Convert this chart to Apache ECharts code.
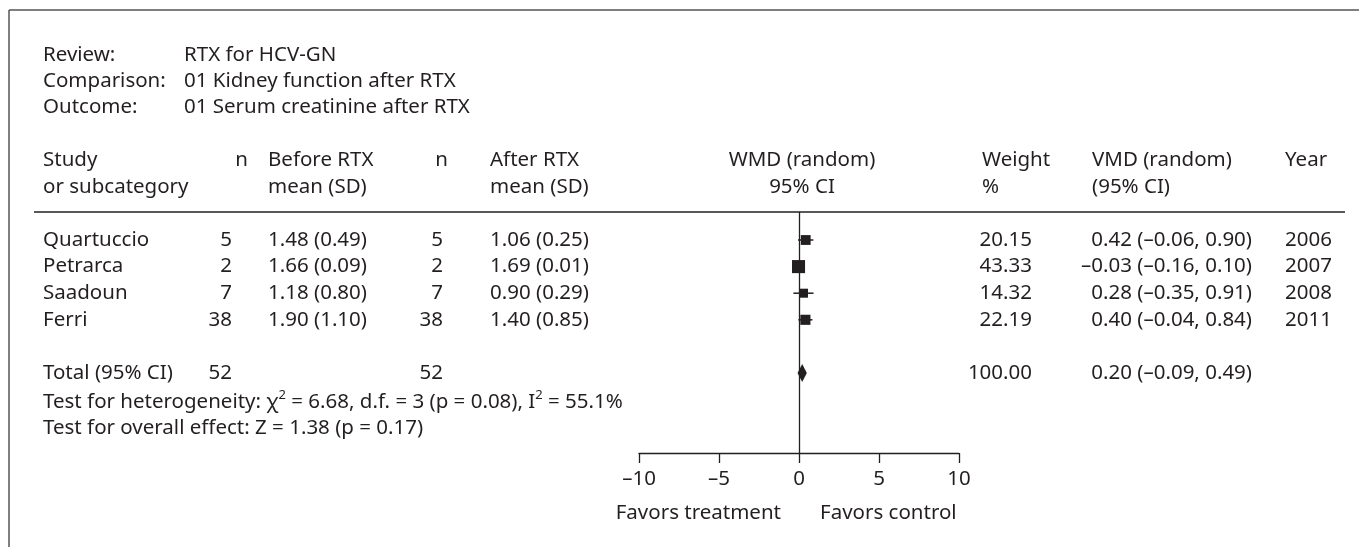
<!DOCTYPE html>
<html><head><meta charset="utf-8">
<script src="https://cdn.jsdelivr.net/npm/echarts@6/dist/echarts.min.js"></script>
<style>html,body{margin:0;padding:0;background:#fff}#c{width:1359px;height:547px}</style>
</head><body><div id="c"></div>
<script>
// ---- data ----
const studies = ['Quartuccio', 'Petrarca', 'Saadoun', 'Ferri'];
const nBefore = [5, 2, 7, 38];
const beforeMean = [1.48, 1.66, 1.18, 1.90];
const beforeSD = [0.49, 0.09, 0.80, 1.10];
const nAfter = [5, 2, 7, 38];
const afterMean = [1.06, 1.69, 0.90, 1.40];
const afterSD = [0.25, 0.01, 0.29, 0.85];
const weights = [20.15, 43.33, 14.32, 22.19];
const wmd = [0.42, -0.03, 0.28, 0.40];
const ciLow = [-0.06, -0.16, -0.35, -0.04];
const ciHigh = [0.90, 0.10, 0.91, 0.84];
const years = [2006, 2007, 2008, 2011];
const totalN = [52, 52];
const totalWeight = 100.00;
const totalWmd = 0.20, totalLow = -0.09, totalHigh = 0.49;
const xTicks = [-10, -5, 0, 5, 10];
const headerLabels = ['Review:', 'Comparison:', 'Outcome:'];
const headerValues = ['RTX for HCV-GN', '01 Kidney function after RTX', '01 Serum creatinine after RTX'];

// ---- layout ----
const FONT = '"Noto Sans", sans-serif';
const FS = 20.5;
const INK = '#231f20';
const ROW0 = 240, ROWH = 26.6;
const rowY = i => ROW0 + ROWH * i;
const TOTAL_ROW = 5;
const GRID_TOP = 212, GRID_BOTTOM = 453;
const yMin = (GRID_TOP - ROW0) / ROWH, yMax = (GRID_BOTTOM - ROW0) / ROWH;
const fmt = v => v.toFixed(2).replace('-', '–');
const ci = (e, l, h) => fmt(e) + ' (' + fmt(l) + ', ' + fmt(h) + ')';

const g = [];
function txt(s, x, y, align) {
  g.push({type: 'text', silent: true, style: {text: s, x: x, y: y, fill: INK, fontSize: FS, fontFamily: FONT, align: align || 'left', verticalAlign: 'middle'}});
}
// frame
g.push({type: 'line', silent: true, shape: {x1: 9, y1: 10, x2: 1359, y2: 10}, style: {stroke: '#555', lineWidth: 1.5}});
g.push({type: 'line', silent: true, shape: {x1: 9, y1: 10, x2: 9, y2: 547}, style: {stroke: '#555', lineWidth: 1.5}});
// header
headerLabels.forEach((s, i) => { txt(s, 43, 55 + 26 * i); txt(headerValues[i], 184, 55 + 26 * i); });
const H1 = 160, H2 = 187;
const C_N1 = 232, C_B = 268, C_N2 = 443, C_A = 490;
txt('Study', 43, H1); txt('or subcategory', 43, H2);
txt('n', 248, H1, 'right');
txt('Before RTX', C_B, H1); txt('mean (SD)', C_B, H2);
txt('n', 448, H1, 'right');
txt('After RTX', C_A, H1); txt('mean (SD)', C_A, H2);
txt('WMD (random)', 802, H1, 'center'); txt('95% CI', 802, H2, 'center');
txt('Weight', 982, H1); txt('%', 982, H2);
txt('VMD (random)', 1092, H1); txt('(95% CI)', 1092, H2);
txt('Year', 1285, H1);
// separator
g.push({type: 'line', silent: true, shape: {x1: 34, y1: GRID_TOP, x2: 1345, y2: GRID_TOP}, style: {stroke: INK, lineWidth: 1.3}});
// study rows
studies.forEach((s, i) => {
  const y = rowY(i);
  txt(s, 43, y);
  txt(String(nBefore[i]), C_N1, y, 'right');
  txt(beforeMean[i].toFixed(2) + ' (' + beforeSD[i].toFixed(2) + ')', C_B, y);
  txt(String(nAfter[i]), C_N2, y, 'right');
  txt(afterMean[i].toFixed(2) + ' (' + afterSD[i].toFixed(2) + ')', C_A, y);
  txt(weights[i].toFixed(2), 1032, y, 'right');
  txt(ci(wmd[i], ciLow[i], ciHigh[i]), 1252, y, 'right');
  txt(String(years[i]), 1285, y);
});
const ty = rowY(TOTAL_ROW);
txt('Total (95% CI)', 43, ty);
txt(String(totalN[0]), C_N1, ty, 'right');
txt(String(totalN[1]), C_N2, ty, 'right');
txt(totalWeight.toFixed(2), 1032, ty, 'right');
txt(ci(totalWmd, totalLow, totalHigh), 1252, ty, 'right');
g.push({type: 'text', silent: true, style: {
  text: '{n|Test for heterogeneity: χ}{s|2}{n| = 6.68, d.f. = 3 (p = 0.08), I}{s|2}{n| = 55.1%}',
  x: 43, y: 402, verticalAlign: 'middle', fill: INK, fontFamily: FONT, fontSize: FS,
  rich: {n: {fontSize: FS, fontFamily: FONT, fill: INK, lineHeight: 26, verticalAlign: 'middle'},
         s: {fontSize: 13, fontFamily: FONT, fill: INK, lineHeight: 26, verticalAlign: 'top'}}
}});
txt('Test for overall effect: Z = 1.38 (p = 0.17)', 43, 428);
txt('Favors treatment', 781, 513, 'right');
txt('Favors control', 820, 513, 'left');

const studyData = studies.map((s, i) => [ciLow[i], ciHigh[i], wmd[i], i, 7 + 0.14 * weights[i]]);

const chart = echarts.init(document.getElementById('c'), null, {renderer: 'canvas'});
chart.setOption({
  animation: false,
  backgroundColor: '#fff',
  grid: {left: 639, width: 320, top: GRID_TOP, height: GRID_BOTTOM - GRID_TOP, containLabel: false},
  xAxis: {
    type: 'value', min: xTicks[0], max: xTicks[xTicks.length - 1], interval: 5, position: 'bottom',
    axisLine: {show: true, onZero: false, lineStyle: {color: INK, width: 1.3}},
    axisTick: {show: true, inside: false, length: 10, lineStyle: {color: INK, width: 1.3}},
    axisLabel: {margin: 16, color: INK, fontSize: FS, fontFamily: FONT, formatter: v => String(v).replace('-', '–')},
    splitLine: {show: false}
  },
  yAxis: {type: 'value', inverse: true, min: yMin, max: yMax, show: false},
  series: [
    {
      type: 'scatter', data: [], z: 1, silent: true,
      markLine: {silent: true, symbol: 'none', label: {show: false}, animation: false,
        lineStyle: {color: INK, width: 1.3, type: 'solid'}, data: [{xAxis: 0}]}
    },
    {
      type: 'custom', z: 3, silent: true, data: studyData, encode: {x: [0, 1, 2], y: 3},
      renderItem: function (params, api) {
        const p1 = api.coord([api.value(0), api.value(3)]);
        const p2 = api.coord([api.value(1), api.value(3)]);
        const c = api.coord([api.value(2), api.value(3)]);
        const s = api.value(4);
        return {type: 'group', children: [
          {type: 'line', shape: {x1: p1[0], y1: p1[1], x2: p2[0], y2: p2[1]}, style: {stroke: INK, lineWidth: 1.5}},
          {type: 'rect', shape: {x: c[0] - s / 2, y: c[1] - s / 2, width: s, height: s}, style: {fill: INK}}
        ]};
      }
    },
    {
      type: 'custom', z: 3, silent: true, data: [[totalLow, totalHigh, totalWmd, TOTAL_ROW]], encode: {x: [0, 1, 2], y: 3},
      renderItem: function (params, api) {
        const l = api.coord([api.value(0), api.value(3)]);
        const h = api.coord([api.value(1), api.value(3)]);
        const c = api.coord([api.value(2), api.value(3)]);
        return {type: 'polygon', shape: {points: [[l[0], l[1]], [c[0], c[1] - 9], [h[0], h[1]], [c[0], c[1] + 9]]}, style: {fill: INK}};
      }
    }
  ],
  graphic: {elements: g}
});
</script></body></html>
